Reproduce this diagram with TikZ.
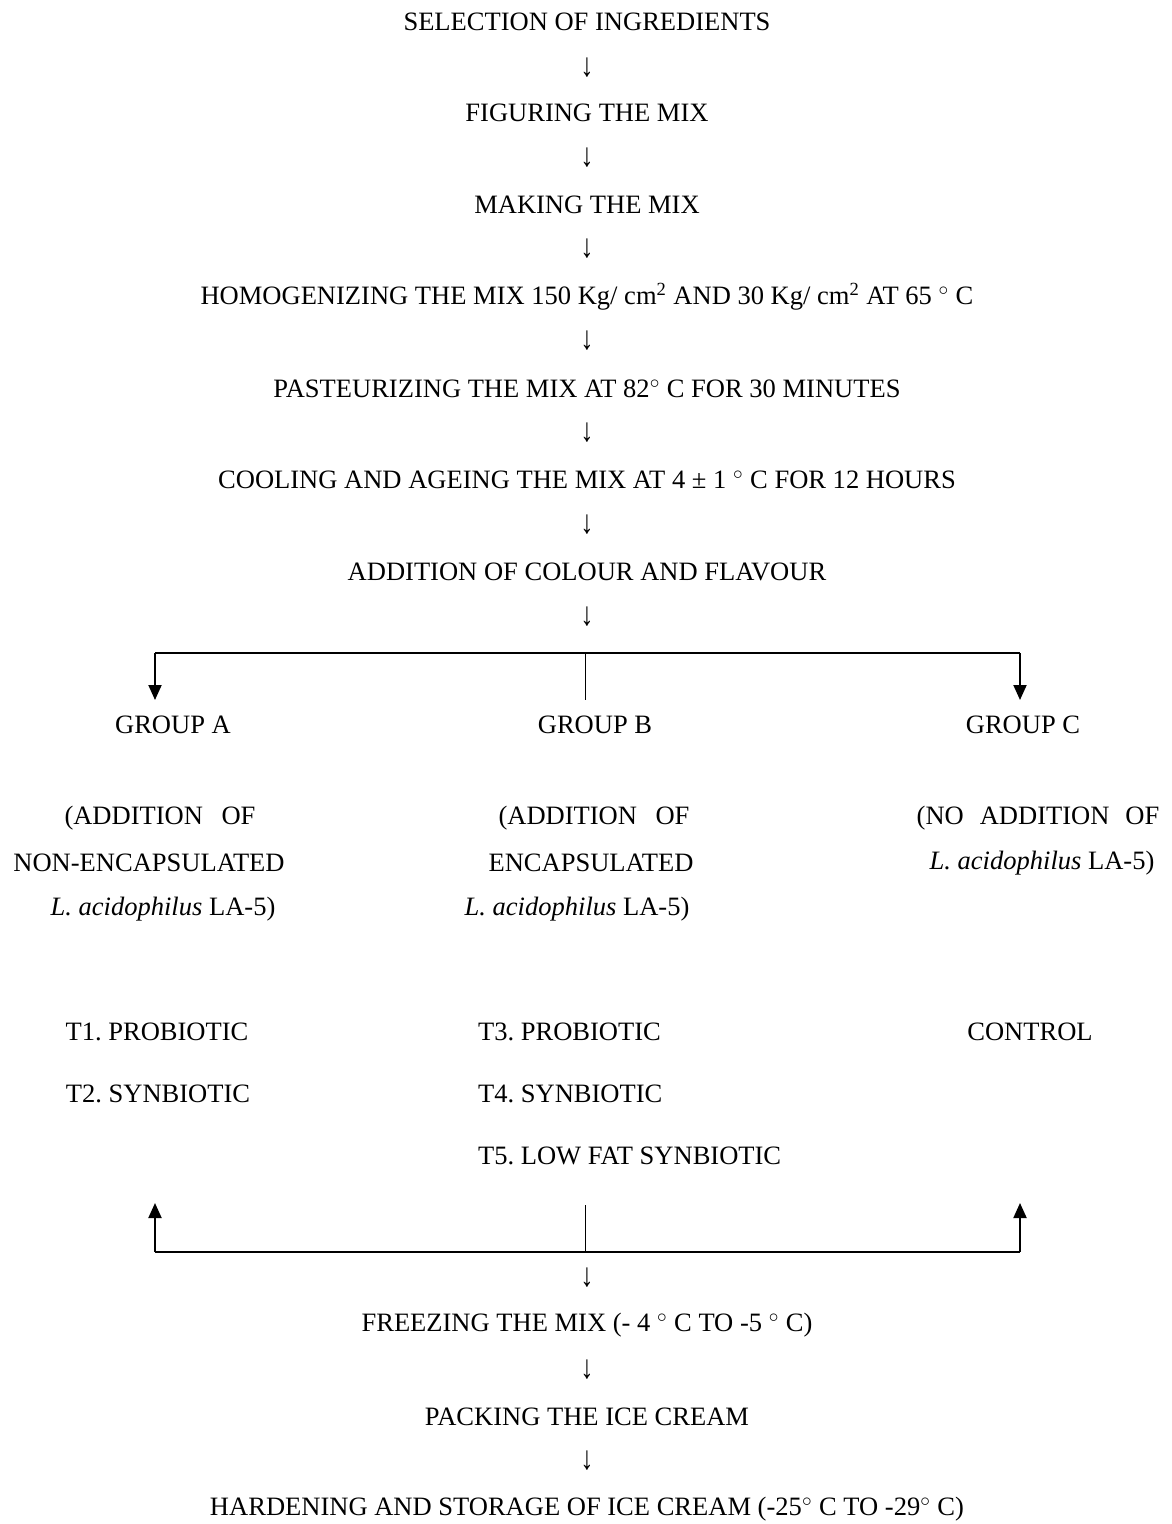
\documentclass[tikz,border=0pt]{standalone}
\usepackage{fontspec}
\usepackage{graphicx}
\setmainfont{Liberation Serif}
\usetikzlibrary{arrows.meta}
\frenchspacing

\newcommand{\dg}{\ensuremath{^{\circ}}}
\newcommand{\lac}{\textit{L. acidophilus} LA-5)}
\newcommand{\dn}{\scalebox{1}[1.25]{↓}}

\begin{document}
\begin{tikzpicture}
    [
    x=0.02cm, y=-0.02cm
    , lbl/.style = {inner sep=1pt, font=\fontsize{15.1}{18}\selectfont}
    , brk/.style = {line width=1.1pt}
    , brkarrow/.style = {brk, -{Triangle[width=0.26cm,length=0.3cm]}}
    ]
\useasboundingbox (0,0) rectangle (1172,1524);

% main line
\node[lbl] (sel)  at (587,22)  {SELECTION OF INGREDIENTS};
\node[lbl] (d1)   at (587,68)  {\dn};
\node[lbl] (fig)  at (587,113) {FIGURING THE MIX};
\node[lbl] (d2)   at (587,158) {\dn};
\node[lbl] (make) at (587,205) {MAKING THE MIX};
\node[lbl] (d3)   at (587,249) {\dn};
\node[lbl] (homo) at (587,297) {HOMOGENIZING THE MIX 150 Kg/ cm\textsuperscript{2} AND 30 Kg/ cm\textsuperscript{2} AT 65 \dg\ C};
\node[lbl] (d4)   at (587,341) {\dn};
\node[lbl] (past) at (587,389) {PASTEURIZING THE MIX AT 82\dg\ C FOR 30 MINUTES};
\node[lbl] (d5)   at (587,433) {\dn};
\node[lbl] (cool) at (587,480) {COOLING AND AGEING THE MIX AT 4 ± 1 \dg\ C FOR 12 HOURS};
\node[lbl] (d6)   at (587,525) {\dn};
\node[lbl] (col)  at (587,572) {ADDITION OF COLOUR AND FLAVOUR};
\node[lbl] (d7)   at (587,617) {\dn};

% split into groups
\coordinate (topL) at (155,653);
\coordinate (topM) at (585,653);
\coordinate (topR) at (1020,653);
\coordinate (endA) at (155,700);
\coordinate (endB) at (585,700);
\coordinate (endC) at (1020,700);
\draw[brk] (topL) -- (topR);
\draw[brkarrow] (topL) -- (endA);
\draw[brkarrow] (topR) -- (endC);
\draw (topM) -- (endB);

\node[lbl] (grpA) at (173,725)  {GROUP A};
\node[lbl] (grpB) at (595,725)  {GROUP B};
\node[lbl] (grpC) at (1023,725) {GROUP C};

\node[lbl] (a1) at (160,818) {(ADDITION\hspace{0.7em}OF};
\node[lbl] (a2) at (149,863) {NON-ENCAPSULATED};
\node[lbl] (a3) at (163,909) {\lac};
\node[lbl] (b1) at (594,818) {(ADDITION\hspace{0.7em}OF};
\node[lbl] (b2) at (591,863) {ENCAPSULATED};
\node[lbl] (b3) at (577,909) {\lac};
\node[lbl] (c1) at (1038,818) {(NO\hspace{0.6em}ADDITION\hspace{0.6em}OF};
\node[lbl] (c2) at (1042,863) {\lac};

\node[lbl] (t1) at (157,1032) {T1. PROBIOTIC};
\node[lbl] (t2) at (158,1094) {T2. SYNBIOTIC};
\node[lbl,anchor=west] (t3) at (476,1032) {T3. PROBIOTIC};
\node[lbl,anchor=west] (t4) at (476,1094) {T4. SYNBIOTIC};
\node[lbl,anchor=west] (t5) at (476,1156) {T5. LOW FAT SYNBIOTIC};
\node[lbl] (ctrl) at (1030,1032) {CONTROL};

% join again
\coordinate (botL) at (155,1252);
\coordinate (botM) at (585,1252);
\coordinate (botR) at (1020,1252);
\coordinate (upA)  at (155,1203);
\coordinate (upB)  at (585,1205);
\coordinate (upC)  at (1020,1203);
\draw[brk] (botL) -- (botR);
\draw[brkarrow] (botL) -- (upA);
\draw[brkarrow] (botR) -- (upC);
\draw (botM) -- (upB);

\node[lbl] (d8)   at (587,1278) {\dn};
\node[lbl] (frz)  at (587,1325) {FREEZING THE MIX (- 4 \dg\ C TO -5 \dg\ C)};
\node[lbl] (d9)   at (587,1370) {\dn};
\node[lbl] (pack) at (587,1417) {PACKING THE ICE CREAM};
\node[lbl] (d10)  at (587,1461) {\dn};
\node[lbl] (hard) at (587,1509) {HARDENING AND STORAGE OF ICE CREAM (-25\dg\ C TO -29\dg\ C)};
\end{tikzpicture}
\end{document}
